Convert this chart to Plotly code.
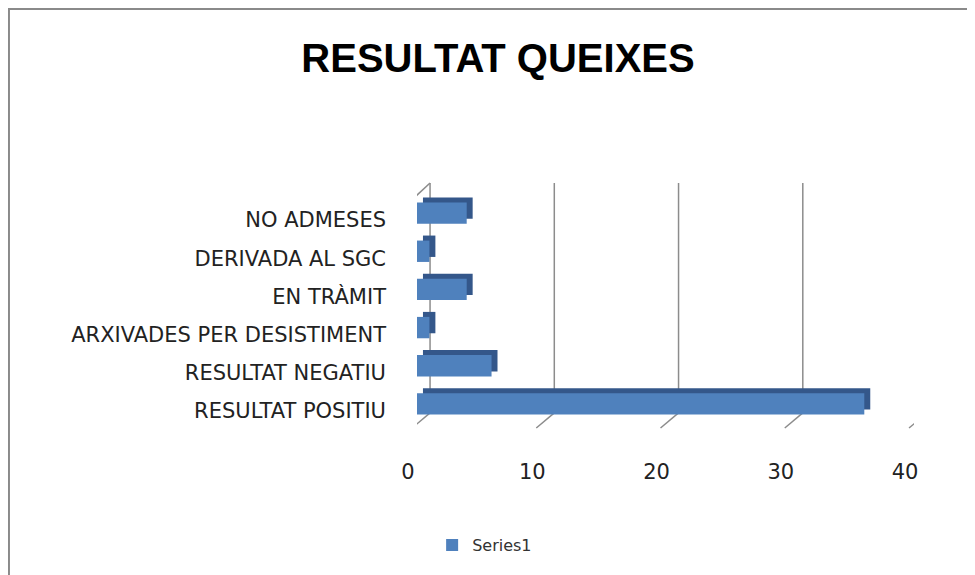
import plotly.graph_objects as go

# categories listed top to bottom as they appear in the chart
categories = ["NO ADMESES", "DERIVADA AL SGC", "EN TRÀMIT",
              "ARXIVADES PER DESISTIMENT", "RESULTAT NEGATIU", "RESULTAT POSITIU"]
values = [4, 1, 4, 1, 6, 36]
x_ticks = [0, 10, 20, 30, 40]
series_name = "Series1"

FRONT = "#4F81BD"
SIDE = "#34578A"
GRID = "#8C8C8C"
FONT = "DejaVu Sans, sans-serif"

fig = go.Figure()

# dark "depth" copy of the bars on the main axes (ranges shifted a few px right/up)
fig.add_trace(go.Bar(
    y=categories, x=values, orientation="h",
    marker=dict(color=SIDE, line=dict(width=0)),
    width=0.56, showlegend=False, hoverinfo="skip"
))

# front faces on the overlay axes, drawn on top
fig.add_trace(go.Bar(
    y=categories, x=values, orientation="h",
    xaxis="x2", yaxis="y2",
    name=series_name,
    marker=dict(color=FRONT, line=dict(width=0)),
    width=0.56,
))

# back wall gridlines + little diagonal floor ticks (3D frame)
depth = 1.05   # x units between front and back wall
shapes = []
for t in x_ticks:
    shapes.append(dict(type="line", xref="x2", yref="paper", x0=t + depth, x1=t + depth,
                       y0=0.044, y1=1.048, line=dict(color=GRID, width=1.5), layer="below"))
    shapes.append(dict(type="line", xref="x2", yref="paper", x0=t + depth, x1=t - 0.4,
                       y0=0.044, y1=-0.022, line=dict(color=GRID, width=1.5), layer="below"))
# left wall front edge and top diagonal
shapes.append(dict(type="line", xref="x2", yref="paper", x0=-0.4, x1=-0.4,
                   y0=-0.022, y1=0.975, line=dict(color=GRID, width=1.5), layer="below"))
shapes.append(dict(type="line", xref="x2", yref="paper", x0=-0.4, x1=depth,
                   y0=0.975, y1=1.048, line=dict(color=GRID, width=1.5), layer="below"))
# outer chart border
shapes.append(dict(type="rect", xref="paper", yref="paper", x0=-0.821, x1=1.2,
                   y0=-0.8, y1=1.808, line=dict(color="#8A8A8A", width=2)))

fig.update_layout(
    width=975, height=575,
    margin=dict(l=409, r=69, t=186, b=160, autoexpand=False),
    paper_bgcolor="white", plot_bgcolor="rgba(0,0,0,0)",
    title=dict(text="<b>RESULTAT QUEIXES</b>", x=0.5026, xref="container",
               y=1 - 50 / 575, yref="container", xanchor="center", yanchor="middle",
               font=dict(family="Liberation Sans, Arial, sans-serif",
                         size=40, color="black")),
    font=dict(family=FONT, size=21, color="#222222"),
    xaxis=dict(range=[-0.48, 39.52], visible=False, automargin=False),
    xaxis2=dict(overlaying="x", range=[0, 40], tickvals=x_ticks, showgrid=False,
                zeroline=False, showline=False, automargin=False,
                tickfont=dict(size=21),
                ticklabelstandoff=34, ticklabelshift=-9),
    yaxis=dict(range=[5.631, -0.369], type="category", visible=False, automargin=False),
    yaxis2=dict(overlaying="y", range=[5.5, -0.5], type="category", showgrid=False,
                zeroline=False, showline=False, automargin=False,
                tickfont=dict(size=21),
                ticklabelstandoff=30, ticklabelshift=-7),
    shapes=shapes,
    bargap=0.44,
    showlegend=True,
    legend=dict(orientation="h", xref="container", yref="container",
                x=0.435, y=1 - 537 / 575, xanchor="left", yanchor="middle",
                font=dict(size=16, color="#333333"), itemwidth=30),
)

fig.write_html("out.html")
